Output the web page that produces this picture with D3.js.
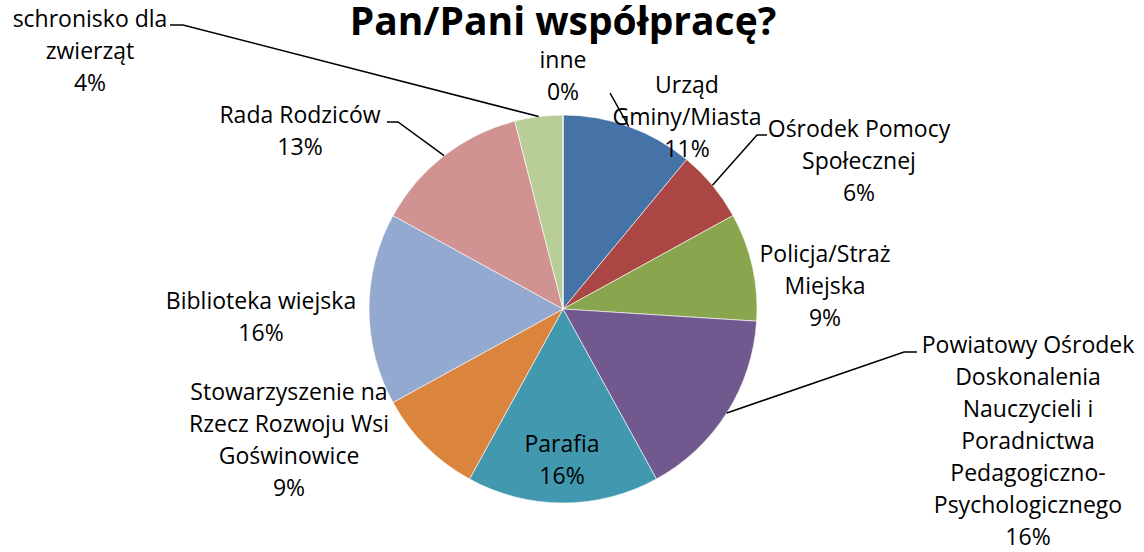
<!DOCTYPE html>
<html>
<head>
<meta charset="utf-8">
<script src="https://cdn.jsdelivr.net/npm/d3@7"></script>
<style>
  html, body { margin: 0; padding: 0; background: #fff; }
  svg { display: block; }
  text { font-family: "Open Sans", Lato, sans-serif; fill: #000; }
</style>
</head>
<body>
<svg id="chart" width="1144" height="552"></svg>
<script>
// ---- data ----
const titleText = "Pan/Pani współpracę?";
const categories = [
  "Urząd Gminy/Miasta",
  "Ośrodek Pomocy Społecznej",
  "Policja/Straż Miejska",
  "Powiatowy Ośrodek Doskonalenia Nauczycieli i Poradnictwa Pedagogiczno-Psychologicznego",
  "Parafia",
  "Stowarzyszenie na Rzecz Rozwoju Wsi Goświnowice",
  "Biblioteka wiejska",
  "Rada Rodziców",
  "schronisko dla zwierząt",
  "inne"
];
const values = [11, 6, 9, 16, 16, 9, 16, 13, 4, 0];
const labelLines = [
  ["Urząd", "Gminy/Miasta"],
  ["Ośrodek Pomocy", "Społecznej"],
  ["Policja/Straż", "Miejska"],
  ["Powiatowy Ośrodek", "Doskonalenia", "Nauczycieli i", "Poradnictwa", "Pedagogiczno-", "Psychologicznego"],
  ["Parafia"],
  ["Stowarzyszenie na", "Rzecz Rozwoju Wsi", "Goświnowice"],
  ["Biblioteka wiejska"],
  ["Rada Rodziców"],
  ["schronisko dla", "zwierząt"],
  ["inne"]
];
const colors = ["#4572A7", "#AA4643", "#89A54E", "#71588F", "#4198AF",
                "#DB843D", "#93A9CF", "#D19392", "#B9CD96", "#A99BBD"];

// ---- layout (label placement, Excel "best fit" style) ----
const cx = 563, cy = 309, R = 194;
const lineH = 32;
// x centre and first baseline of each label, plus leader line start (null = no leader)
const labelLayout = [
  { x: 687, y: 93,  leader: [[610, 93]] },
  { x: 859, y: 137, leader: [[767, 135], [757, 135]] },
  { x: 825, y: 262, leader: null },
  { x: 1028, y: 353, leader: [[917, 352], [904, 352]] },
  { x: 562, y: 452, leader: null },
  { x: 289, y: 400, leader: null },
  { x: 261, y: 309, leader: null },
  { x: 300, y: 123, leader: [[387, 122], [398, 122]] },
  { x: 90,  y: 27,  leader: [[170, 25], [183, 25]] },
  { x: 563, y: 68,  leader: null }
];

const svg = d3.select("#chart");

// title
svg.append("text")
  .attr("x", cx).attr("y", 35)
  .attr("text-anchor", "middle")
  .style("font-size", "39px")
  .style("font-weight", "bold")
  .text(titleText);

const total = d3.sum(values);
const pie = d3.pie().sort(null).value(d => d)(values);
const arc = d3.arc().innerRadius(0).outerRadius(R);

const g = svg.append("g").attr("transform", `translate(${cx},${cy})`);
g.selectAll("path.slice")
  .data(pie)
  .join("path")
  .attr("class", "slice")
  .attr("d", arc)
  .attr("fill", (d, i) => colors[i])
  .attr("stroke", "#fff")
  .attr("stroke-width", 0.6);

// leader lines (end at slice's outer edge mid-angle)
pie.forEach((d, i) => {
  const L = labelLayout[i];
  if (!L.leader) return;
  const a = (d.startAngle + d.endAngle) / 2;
  const ex = cx + R * Math.sin(a), ey = cy - R * Math.cos(a);
  const pts = L.leader.concat([[ex, ey]]);
  svg.append("path")
    .attr("d", d3.line()(pts))
    .attr("fill", "none")
    .attr("stroke", "#000")
    .attr("stroke-width", 1.5);
});

// labels
pie.forEach((d, i) => {
  const L = labelLayout[i];
  const pct = Math.round(values[i] / total * 100) + "%";
  const lines = labelLines[i].concat([pct]);
  const t = svg.append("text")
    .attr("text-anchor", "middle")
    .style("font-size", "23px");
  lines.forEach((ln, k) => {
    t.append("tspan").attr("x", L.x).attr("y", L.y + k * lineH).text(ln);
  });
});
</script>
</body>
</html>
